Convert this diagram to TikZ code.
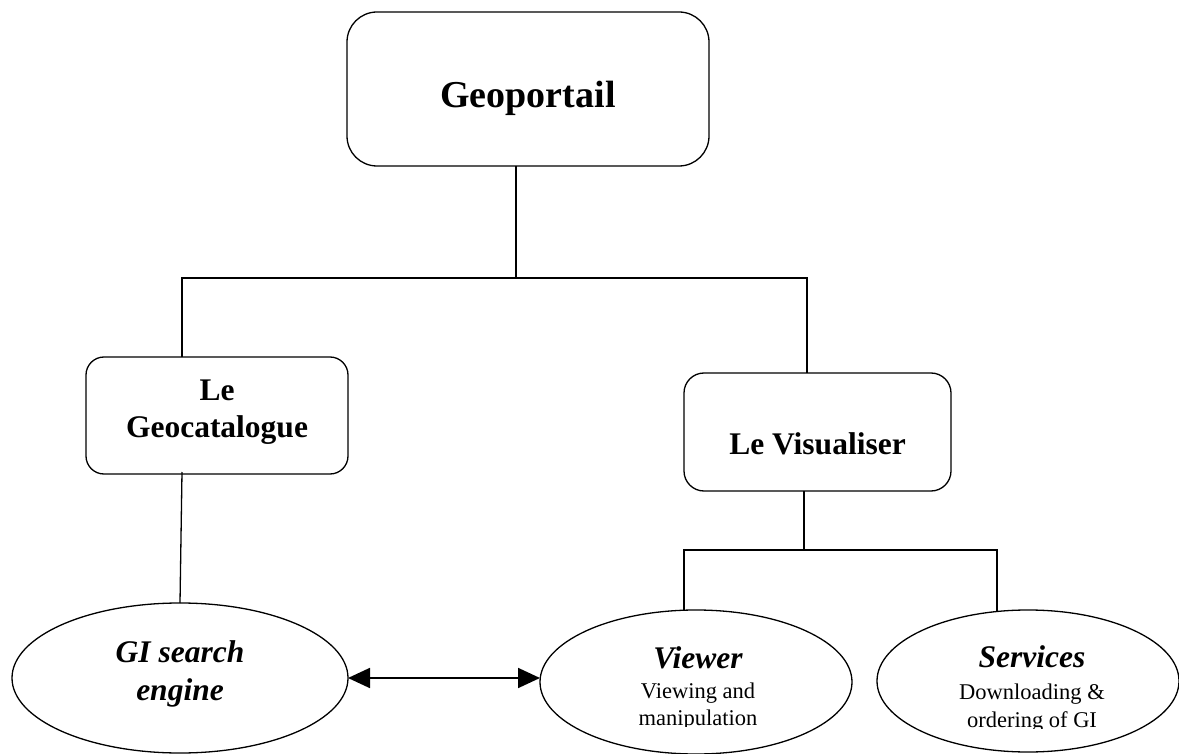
\documentclass[tikz,border=0pt]{standalone}
\usepackage{fontspec}
\setmainfont{Liberation Serif}
\usetikzlibrary{shapes.geometric,arrows.meta}
\tikzset{
  rbox/.style={draw, rectangle, line width=1.3pt, inner sep=0pt, outer sep=0pt},
  oval/.style={draw, ellipse, line width=1.3pt, inner sep=0pt, outer sep=0pt},
  conn/.style={line width=1.3pt},
  bigtitle/.style={anchor=base, inner sep=0pt, font=\fontsize{38}{44}\selectfont\bfseries},
  boxtitle/.style={anchor=base, inner sep=0pt, font=\fontsize{31.5}{36}\selectfont\bfseries},
  ovaltitle/.style={anchor=base, inner sep=0pt, font=\fontsize{31.5}{36}\selectfont\bfseries\itshape},
  ovalsub/.style={anchor=base, inner sep=0pt, font=\fontsize{22.5}{26}\selectfont},
  twoway/.style={line width=1.8pt, {Triangle[length=22pt,width=20pt]}-{Triangle[length=22pt,width=20pt]}}
}
\begin{document}
\begin{tikzpicture}[x=1pt,y=-1pt]
\useasboundingbox (0,0) rectangle (1179,754);
% boxes
\node[rbox, rounded corners=30pt, minimum width=362pt, minimum height=154pt] (geo) at (528,89) {};
\node[rbox, rounded corners=18pt, minimum width=262pt, minimum height=117pt] (cat) at (217,415.5) {};
\node[rbox, rounded corners=20pt, minimum width=267pt, minimum height=118pt] (vis) at (817.5,432) {};
% ellipses
\node[oval, minimum width=336pt, minimum height=150pt] (gi) at (180,678) {};
\node[oval, minimum width=312pt, minimum height=144pt] (view) at (696,682) {};
\node[oval, minimum width=302pt, minimum height=142pt] (serv) at (1028,681) {};
% texts
\node[bigtitle] (geo-t) at (528,108) {Geoportail};
\node[boxtitle] (cat-t1) at (217,400) {Le};
\node[boxtitle] (cat-t2) at (217,437) {Geocatalogue};
\node[boxtitle] (vis-t) at (817.5,454) {Le Visualiser};
\node[ovaltitle] (gi-t1) at (180,662) {GI search};
\node[ovaltitle] (gi-t2) at (180,700) {engine};
\node[ovaltitle] (view-t1) at (698,668) {Viewer};
\node[ovalsub] (view-t2) at (698,698) {Viewing and};
\begin{scope}
  \clip (600,0) rectangle (800,726);
  \node[ovalsub] (view-t3) at (698,725) {manipulation};
\end{scope}
\node[ovaltitle] (serv-t1) at (1032,667) {Services};
\node[ovalsub] (serv-t2) at (1032,699) {Downloading \&};
\begin{scope}
  \clip (920,0) rectangle (1150,728);
  \node[ovalsub] (serv-t3) at (1032,727) {ordering of GI};
\end{scope}
% junction coordinates
\coordinate (j1) at (516,278);
\coordinate (barL) at (182,278);
\coordinate (barR) at (807,278);
\coordinate (catdown) at (182,472);
\coordinate (j2) at (804,550);
\coordinate (bar2L) at (684,550);
\coordinate (bar2R) at (997,550);
% connectors
\draw[conn] (geo.south -| j1) -- (j1);
\draw[conn] (cat.north -| barL) -- (barL) -- (barR) -- (vis.north -| barR);
\draw[conn] (catdown) -- (gi.north);
\draw[conn] (vis.south -| j2) -- (j2);
\draw[conn] (view.north -| bar2L) -- (bar2L) -- (bar2R) -- ([yshift=-1.5pt]serv.north -| bar2R);
\draw[twoway] (gi.east) -- (gi.east -| view.west);
\end{tikzpicture}
\end{document}
